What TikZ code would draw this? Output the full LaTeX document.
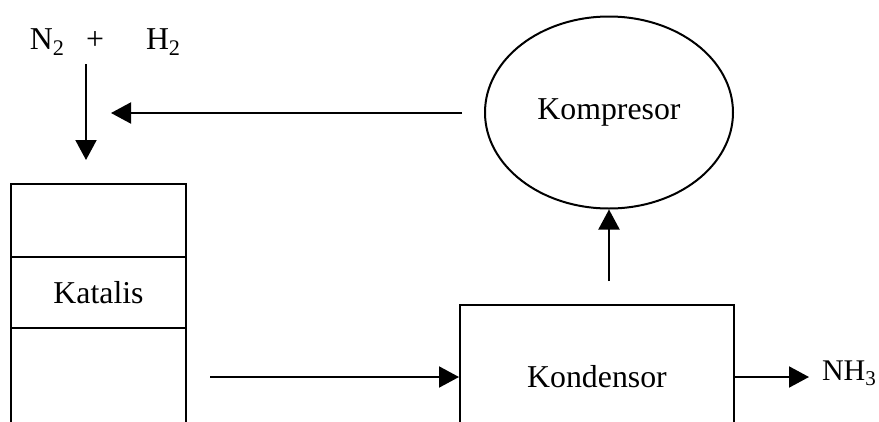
\documentclass[tikz,border=0pt]{standalone}
\usepackage{fontspec}
\setmainfont{Liberation Serif}
\usetikzlibrary{arrows.meta,shapes.geometric}
\begin{document}
\begin{tikzpicture}[x=1pt,y=-1pt, line width=2pt,
  every node/.style={font=\fontsize{31.8}{38}\selectfont},
  cell/.style={draw, rectangle, inner sep=0pt, minimum width=175pt},
  unit/.style={draw, rectangle, inner sep=0pt},
  flow/.style={-{Triangle[length=20pt,width=21pt]}},
  lbl/.style={inner sep=0pt, anchor=base west}]
\clip (0,0) rectangle (879,421);
% reactor column
\node[cell, minimum height=73pt] (top) at (98.5,220.5) {};
\node[cell, minimum height=71pt] (kat) at (98.5,292.5) {Katalis};
\node[cell, minimum height=112pt] (bot) at (98.5,384) {};
% condenser
\node[unit, minimum width=274pt, minimum height=144pt] (kond) at (597,377) {Kondensor};
% compressor
\node[draw, ellipse, inner sep=0pt, minimum width=248pt, minimum height=192pt] (komp) at (609,112.5) {Kompresor};
% feed labels
\node[lbl] (n2) at (29,49) {N\textsubscript{2}};
\node[inner sep=0pt, anchor=base] (plus) at (95,49) {+};
\node[lbl] (h2) at (145,49) {H\textsubscript{2}};
\node[lbl, font=\fontsize{30}{36}\selectfont] (nh3) at (821,380) {NH\textsubscript{3}};
% connectors
\coordinate (feedtop) at (86,64);
\coordinate (feedtip) at (86,160);
\draw[flow] (feedtop) -- (feedtip);
\coordinate (rectail) at (462,113);
\coordinate (rectip) at (111,113);
\draw[flow] (rectail) -- (rectip);
\coordinate (uptail) at (609,281);
\draw[flow] (uptail) -- (komp.south);
\coordinate (outtail) at (210,377);
\draw[flow] (outtail) -- (kond.west);
\coordinate (prodtip) at (809,377);
\draw[flow] (kond.east) -- (prodtip);
\end{tikzpicture}
\end{document}
